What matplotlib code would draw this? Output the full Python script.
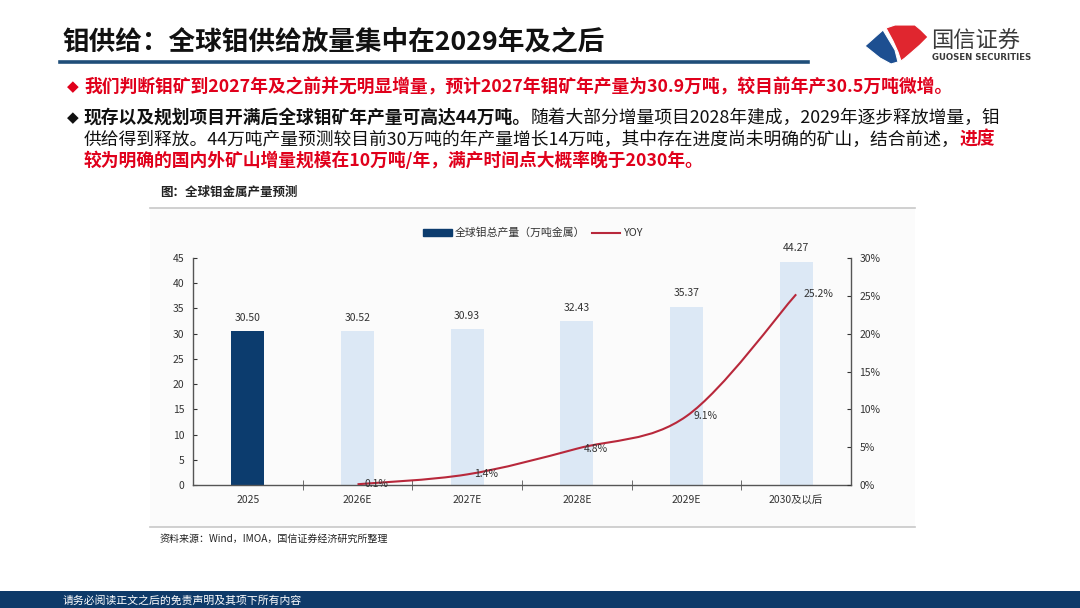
import numpy as np
import matplotlib
matplotlib.use("Agg")
import matplotlib.pyplot as plt
from matplotlib.path import Path
from matplotlib.patches import PathPatch, Rectangle, Polygon
from matplotlib.lines import Line2D

plt.rcParams['font.family'] = ['Noto Sans CJK SC', 'DejaVu Sans']

# data
categories = ['2025', '2026E', '2027E', '2028E', '2029E', '2030及以后']
output = [30.50, 30.52, 30.93, 32.43, 35.37, 44.27]
yoy_idx = [1, 2, 3, 4, 5]
yoy = [0.1, 1.4, 4.8, 9.1, 25.2]

left_ticks = [0, 5, 10, 15, 20, 25, 30, 35, 40, 45]
right_ticks = [0, 5, 10, 15, 20, 25, 30]

W, H = 1080, 608
NAVY = '#0c3c6e'
LIGHT = '#dce8f5'
RED_LINE = '#b8283b'
RED_TXT = '#e0001b'


def fx(x):
    return x / W


def fy(y):
    return 1 - y / H


fig = plt.figure(figsize=(10.8, 6.08), dpi=100)
fig.patch.set_facecolor('white')

# ---- header ----
fig.text(fx(62), fy(42), '钼供给：全球钼供给放量集中在2029年及之后', fontsize=19.2,
         fontweight='bold', color='#111111', va='center', ha='left')
fig.add_artist(Line2D([fx(60), fx(808)], [fy(62), fy(62)], color='#1f4e79', lw=2.6))

# logo
blue = [(865, 46), (883, 30), (889, 40), (895, 50), (898, 62), (891, 64), (880, 58)]
red = [(886, 28), (895, 25), (915, 25), (921, 30), (928, 37), (920, 45), (912, 52),
       (905, 58), (901, 61), (898, 52), (893, 41)]
fig.add_artist(Polygon([(fx(a), fy(b)) for a, b in blue], closed=True,
                       facecolor='#1d4f91', edgecolor='white', lw=0.8))
fig.add_artist(Polygon([(fx(a), fy(b)) for a, b in red], closed=True,
                       facecolor='#e0262f', edgecolor='white', lw=0.8))
fig.text(fx(931), fy(41), '国信证券', fontsize=16, color='#3a3a3a', va='center', ha='left')
fig.text(fx(932), fy(58), 'GUOSEN SECURITIES', fontsize=6.2, color='#3a3a3a',
         fontweight='bold', va='center', ha='left', family=['DejaVu Sans'])

# ---- bullets with mixed styles ----
renderer = fig.canvas.get_renderer()


def line_of(x0, y, segs, size=12.8):
    x = fx(x0)
    for txt, color, weight in segs:
        t = fig.text(x, fy(y), txt, fontsize=size, color=color, fontweight=weight,
                     va='center', ha='left')
        bb = t.get_window_extent(renderer=renderer)
        x += bb.width / W


fig.text(fx(67), fy(87), '◆', fontsize=11, color=RED_TXT, va='center', ha='left',
         family=['DejaVu Sans'])
line_of(84, 87, [('我们判断钼矿到2027年及之前并无明显增量，预计2027年钼矿年产量为30.9万吨，较目前年产30.5万吨微增。',
                  RED_TXT, 'bold')])

fig.text(fx(67), fy(118), '◆', fontsize=11, color='#111111', va='center', ha='left',
         family=['DejaVu Sans'])
line_of(84, 118, [('现存以及规划项目开满后全球钼矿年产量可高达44万吨。', '#111111', 'bold'),
                  ('随着大部分增量项目2028年建成，2029年逐步释放增量，钼', '#111111', 'normal')])
line_of(84, 140, [('供给得到释放。44万吨产量预测较目前30万吨的年产量增长14万吨，其中存在进度尚未明确的矿山，结合前述，',
                   '#111111', 'normal'),
                  ('进度', RED_TXT, 'bold')])
line_of(84, 161, [('较为明确的国内外矿山增量规模在10万吨/年，满产时间点大概率晚于2030年。', RED_TXT, 'bold')])

fig.text(fx(160), fy(192), '图：全球钼金属产量预测', fontsize=9, fontweight='bold',
         color='#222222', va='center', ha='left')

# chart panel
fig.add_artist(Rectangle((fx(150), fy(527)), fx(765), (527 - 208) / H,
                         facecolor='#fbfbfb', edgecolor='none', zorder=0))
fig.add_artist(Line2D([fx(150), fx(915)], [fy(208), fy(208)], color='#c8c8c8', lw=1.2))
fig.add_artist(Line2D([fx(150), fx(915)], [fy(527), fy(527)], color='#c8c8c8', lw=1.2))

fig.text(fx(160), fy(539), '资料来源：Wind，IMOA，国信证券经济研究所整理', fontsize=7.2,
         color='#222222', va='center', ha='left')

# footer band
fig.add_artist(Rectangle((0, 0), 1, 17 / H, facecolor='#0e3a69', edgecolor='none'))
fig.text(fx(63), fy(600), '请务必阅读正文之后的免责声明及其项下所有内容', fontsize=7.8,
         color='white', va='center', ha='left')

# ---- chart ----
ax = fig.add_axes([fx(193), fy(485), (851 - 193) / W, (485 - 258) / H])
ax.set_facecolor('none')
x = np.arange(len(categories))
colors = [NAVY] + [LIGHT] * (len(categories) - 1)
bars = ax.bar(x, output, width=0.3, color=colors, zorder=2)
for xi, v in zip(x, output):
    ax.annotate(f'{v:.2f}', (xi, v), xytext=(0, 6), textcoords='offset points',
                ha='center', va='bottom', fontsize=7.5, color='#333333')
ax.set_xlim(-0.5, len(categories) - 0.5)
ax.set_ylim(0, 45)
ax.set_yticks(left_ticks)
ax.set_xticks(x)
ax.set_xticklabels(categories)
ax.tick_params(axis='x', length=0, labelsize=7.5, colors='#333333', pad=7)
ax.tick_params(axis='y', direction='in', length=3, labelsize=7.5, colors='#333333', pad=6)
ax.set_xticks(np.arange(len(categories) - 1) + 0.5, minor=True)
ax.tick_params(axis='x', which='minor', direction='inout', length=7, color='#555555')
for s in ['top', 'right']:
    ax.spines[s].set_visible(False)
for s in ['left', 'bottom']:
    ax.spines[s].set_color('#555555')
    ax.spines[s].set_linewidth(1.0)

ax2 = ax.twinx()
ax2.set_ylim(0, 30)
ax2.set_yticks(right_ticks)
ax2.set_yticklabels([f'{t}%' for t in right_ticks])
ax2.tick_params(axis='y', direction='in', length=3, labelsize=7.5, colors='#333333', pad=6)
for s in ['top', 'left', 'bottom']:
    ax2.spines[s].set_visible(False)
ax2.spines['right'].set_color('#555555')
ax2.spines['right'].set_linewidth(1.0)

# smoothed yoy line (Catmull-Rom style bezier through the data points)
px = np.array(yoy_idx, dtype=float)
py = np.array(yoy, dtype=float)
verts = [(px[0], py[0])]
codes = [Path.MOVETO]
n = len(px)
for i in range(n - 1):
    p0 = np.array([px[max(i - 1, 0)], py[max(i - 1, 0)]])
    p1 = np.array([px[i], py[i]])
    p2 = np.array([px[i + 1], py[i + 1]])
    p3 = np.array([px[min(i + 2, n - 1)], py[min(i + 2, n - 1)]])
    c1 = p1 + (p2 - p0) / 6
    c2 = p2 - (p3 - p1) / 6
    verts += [tuple(c1), tuple(c2), tuple(p2)]
    codes += [Path.CURVE4] * 3
ax2.add_patch(PathPatch(Path(verts, codes), fill=False, edgecolor=RED_LINE, lw=1.5, zorder=3))
for xi, v in zip(yoy_idx, yoy):
    ax2.annotate(f'{v:.1f}%', (xi, v), xytext=(5, 0), textcoords='offset points',
                 ha='left', va='center', fontsize=7.5, color='#333333')

# legend
handles = [Rectangle((0, 0), 1, 1, color=NAVY),
           Line2D([], [], color=RED_LINE, lw=1.5)]
fig.legend(handles, ['全球钼总产量（万吨金属）', 'YOY'], loc='center',
           bbox_to_anchor=(fx(533), fy(233)), ncol=2, frameon=False, fontsize=7.8,
           handlelength=2.6, handleheight=0.6, columnspacing=0.6, handletextpad=0.3,
           labelcolor='#333333')

fig.savefig('out.png', dpi=100)
